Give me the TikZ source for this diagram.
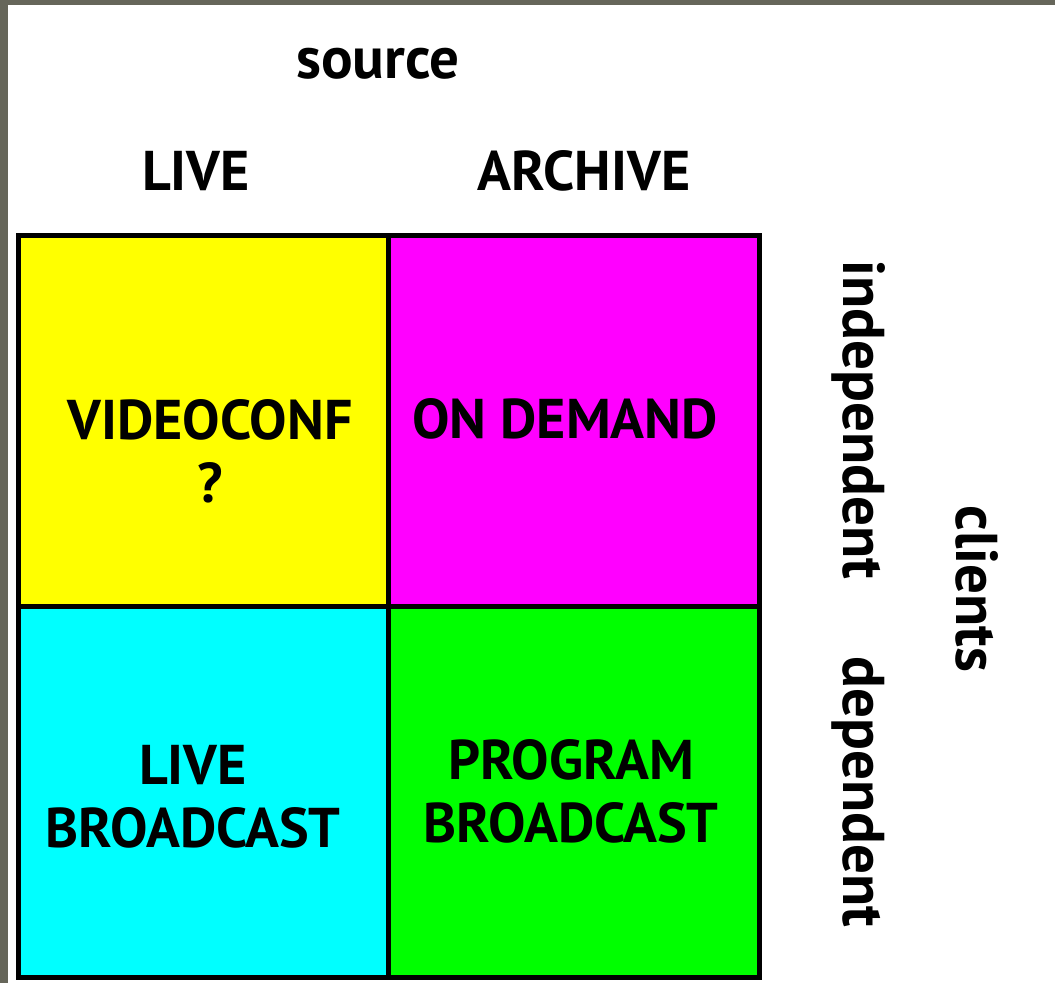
\documentclass[tikz,border=0pt]{standalone}
\usepackage{fontspec}
\setmainfont{PT Sans}
\definecolor{frame}{HTML}{66665A}
\definecolor{cYellow}{HTML}{FFFF00}
\definecolor{cMagenta}{HTML}{FF00FF}
\definecolor{cCyan}{HTML}{00FFFF}
\definecolor{cGreen}{HTML}{00FF00}
\begin{document}
\begin{tikzpicture}[x=1pt,y=-1pt,
  cell/.style={draw=black, line width=5pt, inner sep=0pt, outer sep=0pt, rectangle},
  lbl/.style={font=\bfseries\fontsize{56}{63}\selectfont, inner sep=0pt, align=center},
  word/.style={font=\bfseries\fontsize{59}{66}\selectfont, inner sep=0pt, anchor=base},
  side/.style={word, rotate=-90}]
  % page and surrounding frame
  \useasboundingbox (0,0) rectangle (1055,983);
  \fill[frame] (0,0) rectangle (1055,983);
  \fill[white] (8,5) rectangle (1055,983);

  % the four quadrants
  \node[cell, fill=cYellow,  minimum width=369.5pt, minimum height=371pt]   (vc) at (203.25,420.5) {};
  \node[cell, fill=cMagenta, minimum width=371.5pt, minimum height=371pt]   (od) at (573.75,420.5) {};
  \node[cell, fill=cCyan,    minimum width=369.5pt, minimum height=371.5pt] (lb) at (203.25,791.75) {};
  \node[cell, fill=cGreen,   minimum width=371.5pt, minimum height=371.5pt] (pb) at (573.75,791.75) {};

  % quadrant labels
  \node[lbl] (vcl) at (210,451) {VIDEOCONF\\?};
  \node[lbl, anchor=base] (odl) at (565,438) {ON DEMAND};
  \node[lbl] (lbl) at (193,796.5) {LIVE\\BROADCAST};
  \node[lbl] (pbl) at (571,791.5) {PROGRAM\\BROADCAST};

  % column axis
  \node[word] (src) at (378,78) {source};
  \node[lbl, anchor=base] (live) at (196,190) {LIVE};
  \node[lbl, anchor=base] (arch) at (584,190) {ARCHIVE};

  % row axis
  \node[side] (ind) at (843,420) {independent};
  \node[side] (dep) at (843,792) {dependent};
  \node[side] (cli) at (956,589) {clients};
\end{tikzpicture}
\end{document}
